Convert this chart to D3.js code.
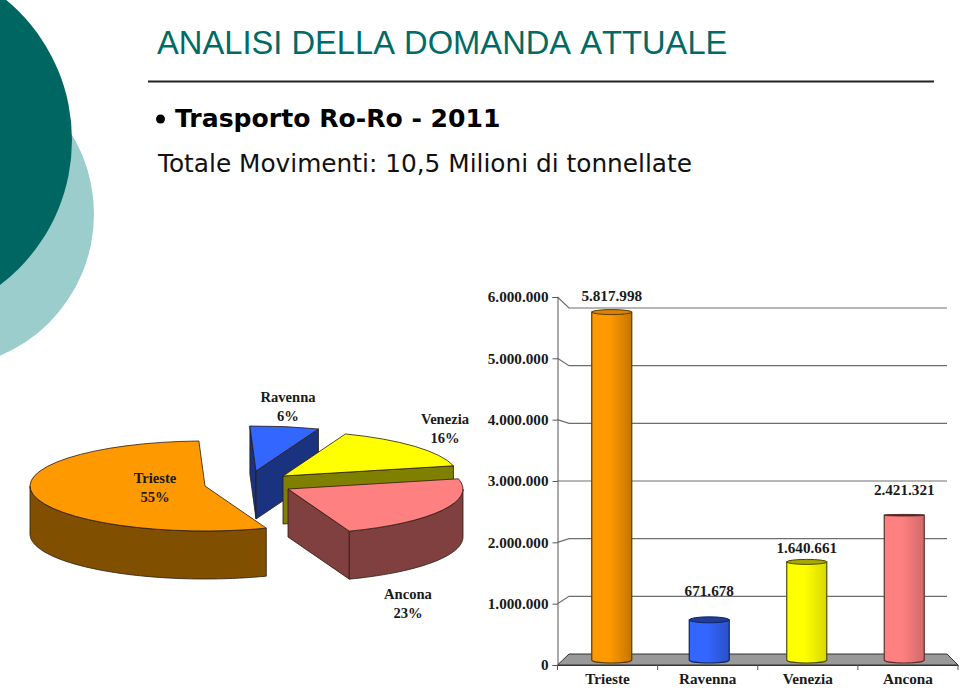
<!DOCTYPE html>
<html>
<head>
<meta charset="utf-8">
<script src="https://cdn.jsdelivr.net/npm/d3@7"></script>
<style>
  html, body { margin: 0; padding: 0; background: #fff; overflow: hidden; }
  svg { display: block; }
  .lbl { font-family: "Liberation Serif", serif; font-weight: 700; font-size: 15.2px; fill: #1a1a1a; text-anchor: middle; }
  .pielbl { font-size: 14.6px; }
</style>
</head>
<body>
<svg id="viz"></svg>
<script>
var width = 960;
var height = 688;

// values
var categories = ["Trieste", "Ravenna", "Venezia", "Ancona"];
var tonnes = [5817998, 671678, 1640661, 2421321];
var percents = ["55%", "6%", "16%", "23%"];
var yTicks = [0, 1000000, 2000000, 3000000, 4000000, 5000000, 6000000];

// styling per category
var faceColors = ["#ff9900", "#3366ff", "#ffff00", "#ff8080"];
var wallColors = ["#805000", "#1a3380", "#808000", "#804040"];
var shadeColors = ["#c47600", "#2a50c4", "#d8d800", "#d06a6a"];
var capColors = ["#d98300", "#1f3d99", "#a8a800", "#402020"];
var edgeColors = ["#5c3a00", "#12245c", "#4d4d00", "#5c2e2e"];
var capRy = [2.5, 3, 2.5, 0.8];
var barLabelGap = [11, 24, 9, 20];

// exploded slice centres and label anchors of the pie
var sliceCentres = [[205, 486], [256, 471], [283, 476], [288, 489]];
var pieLabels = [[155, 483], [288, 402], [445, 424], [408, 599]];

var svg = d3.select("#viz").attr("width", width).attr("height", height);

// background circles
svg.append("circle").attr("cx", -60).attr("cy", 214).attr("r", 154).attr("fill", "#9bcdcd");
svg.append("circle").attr("cx", -110).attr("cy", 140).attr("r", 182).attr("fill", "#006661");

// heading
svg.append("text").attr("x", 157).attr("y", 54)
    .style("font-family", "Liberation Sans").style("font-size", "32.7px").style("font-kerning", "none")
    .attr("fill", "#006b66").text("ANALISI DELLA DOMANDA ATTUALE");
svg.append("line").attr("x1", 148).attr("x2", 934).attr("y1", 81.5).attr("y2", 81.5)
    .attr("stroke", "#222").attr("stroke-width", 2);
svg.append("circle").attr("cx", 160.5).attr("cy", 119).attr("r", 4.5).attr("fill", "#000");
svg.append("text").attr("x", 175).attr("y", 127)
    .style("font-family", "DejaVu Sans").style("font-size", "25.1px").style("font-weight", 700)
    .attr("fill", "#000").text("Trasporto Ro-Ro - 2011");
svg.append("text").attr("x", 158).attr("y", 172)
    .style("font-family", "DejaVu Sans").style("font-size", "24.8px")
    .attr("fill", "#111").text("Totale Movimenti: 10,5 Milioni di tonnellate");

// ---- pie ----
var rx = 175, ry = 45, depth = 48;
var quarter = Math.PI / 2;
var turn = Math.PI * 2;

var pie = d3.pie().sort(null)
    .startAngle(159.5 * Math.PI / 180)
    .endAngle((159.5 + 360) * Math.PI / 180);

var slices = pie(tonnes).map(function(d) {
    // slices past a full turn are brought back so the wall test below works
    var back = d.startAngle >= turn ? turn : 0;
    return {i: d.index, a0: d.startAngle - back, a1: d.endAngle - back, c: sliceCentres[d.index]};
});

function px(d, a) { return d.c[0] + rx * Math.sin(a); }
function py(d, a) { return d.c[1] - ry * Math.cos(a); }

var arcTop = d3.arc().innerRadius(0).outerRadius(rx);
var line = d3.line();

function drawSlice(d) {
    var g = svg.append("g");
    var cx = d.c[0], cy = d.c[1];
    var outline = "#2a1a10";

    // flat cut walls
    var cuts = [];
    if (d.i == 1) cuts = [d.a0, d.a1];   // ravenna shows both sides
    if (d.i == 2) cuts = [d.a1];
    if (d.i == 3) cuts = [d.a1];
    cuts.forEach(function(a) {
        var pts = [[cx, cy], [px(d, a), py(d, a)], [px(d, a), py(d, a) + depth], [cx, cy + depth]];
        g.append("path").attr("d", line(pts) + "Z")
            .attr("fill", wallColors[d.i]).attr("stroke", outline).attr("stroke-width", 0.8);
    });

    // curved outer wall: only the part facing the viewer
    var from = Math.max(d.a0, quarter), to = Math.min(d.a1, quarter * 3);
    if (to > from) {
        var steps = d3.range(from, to, 0.02).concat([to]);
        var area = d3.area()
            .x(function(a) { return px(d, a); })
            .y0(function(a) { return py(d, a); })
            .y1(function(a) { return py(d, a) + depth; });
        g.append("path").attr("d", area(steps))
            .attr("fill", wallColors[d.i]).attr("stroke", outline).attr("stroke-width", 0.8);
    }

    // top face
    g.append("path")
        .attr("d", arcTop({startAngle: d.a0, endAngle: d.a1}))
        .attr("transform", "translate(" + cx + "," + cy + ") scale(1," + (ry / rx) + ")")
        .attr("vector-effect", "non-scaling-stroke")
        .attr("fill", faceColors[d.i]).attr("stroke", outline).attr("stroke-width", 0.8);
}

[1, 2, 0, 3].forEach(function(i) { drawSlice(slices[i]); });

categories.forEach(function(c, i) {
    svg.append("text").attr("class", "lbl pielbl")
        .attr("x", pieLabels[i][0]).attr("y", pieLabels[i][1]).text(c);
    svg.append("text").attr("class", "lbl pielbl")
        .attr("x", pieLabels[i][0]).attr("y", pieLabels[i][1] + 18.5).text(percents[i]);
});

// ---- bars ----
function fmt(v) {
    return d3.format(",")(v).replace(/,/g, ".");
}

// front edge of the box (axis), back edge (gridlines), bar height
var yFront = d3.scaleLinear().domain([0, 6000000]).range([665, 297]);
var yBack = d3.scaleLinear().domain([0, 6000000]).range([654, 308]);
var yBar = d3.scaleLinear().domain([0, 6000000]).range([660, 301.2]);

var xFront = d3.scaleBand().domain(categories).range([557.5, 958]);
var xBar = d3.scaleBand().domain(categories).range([563, 953]);
var xBackLeft = 569, xBackRight = 947;
var barW = 40;

// floor
svg.append("path")
    .attr("d", line([[xFront.range()[0], yFront(0)], [xBackLeft, yBack(0)], [xBackRight, yBack(0)], [xFront.range()[1], yFront(0)]]) + "Z")
    .attr("fill", "#999").attr("stroke", "#333").attr("stroke-width", 1);

// gridlines with their little slanted connectors
svg.append("g").selectAll("path")
    .data(yTicks.slice(1))
    .enter()
    .append("path")
    .attr("fill", "none").attr("stroke", "#6e6e6e").attr("stroke-width", 1.2)
    .attr("d", function(d) {
        return line([[xFront.range()[0], yFront(d)], [xBackLeft, yBack(d)], [xBackRight, yBack(d)]]);
    });

// y axis
var yAxis = svg.append("g").attr("transform", "translate(" + xFront.range()[0] + ",0)")
    .call(d3.axisLeft(yFront).tickValues(yTicks).tickSizeOuter(0).tickSize(5).tickPadding(4).tickFormat(fmt));
yAxis.selectAll("path,line").attr("stroke", "#555");
yAxis.selectAll("text").attr("class", "lbl").style("text-anchor", "end").attr("fill", "#1a1a1a");

// x axis
var xAxis = svg.append("g").attr("transform", "translate(0," + yFront(0) + ")")
    .call(d3.axisBottom(xFront).tickSize(0).tickPadding(8));
xAxis.select("path").attr("stroke", "#333");
xAxis.selectAll("text").attr("class", "lbl").attr("fill", "#1a1a1a");
xAxis.selectAll(".sep")
    .data(d3.range(categories.length + 1))
    .enter()
    .append("line")
    .attr("class", "sep")
    .attr("x1", function(d) { return xFront.range()[0] + d * xFront.step(); })
    .attr("x2", function(d) { return xFront.range()[0] + d * xFront.step(); })
    .attr("y1", 0).attr("y2", 5)
    .attr("stroke", "#555");

// gradients for the cylinders
var defs = svg.append("defs");
categories.forEach(function(c, i) {
    var grad = defs.append("linearGradient").attr("id", "cyl" + i);
    grad.append("stop").attr("offset", "0%").attr("stop-color", faceColors[i]);
    grad.append("stop").attr("offset", "45%").attr("stop-color", faceColors[i]);
    grad.append("stop").attr("offset", "100%").attr("stop-color", shadeColors[i]);
});

var bars = svg.append("g").selectAll("g")
    .data(tonnes)
    .enter()
    .append("g")
    .attr("transform", function(d, i) {
        return "translate(" + (xBar(categories[i]) + xBar.bandwidth() / 2) + ",0)";
    });

bars.append("path")
    .attr("fill", function(d, i) { return "url(#cyl" + i + ")"; })
    .attr("stroke", function(d, i) { return edgeColors[i]; })
    .attr("stroke-width", 1.2)
    .attr("d", function(d) {
        var r = barW / 2;
        return "M" + (-r) + "," + yBar(d) + "L" + (-r) + "," + yBar(0)
            + "A" + r + ",3 0 0 0 " + r + "," + yBar(0)
            + "L" + r + "," + yBar(d) + "Z";
    });

bars.append("ellipse")
    .attr("cx", 0).attr("cy", function(d) { return yBar(d); })
    .attr("rx", barW / 2).attr("ry", function(d, i) { return capRy[i]; })
    .attr("fill", function(d, i) { return capColors[i]; })
    .attr("stroke", function(d, i) { return edgeColors[i]; })
    .attr("stroke-width", 1);

bars.append("text")
    .attr("class", "lbl")
    .attr("y", function(d, i) { return yBar(d) - barLabelGap[i]; })
    .text(fmt);
</script>
</body>
</html>
